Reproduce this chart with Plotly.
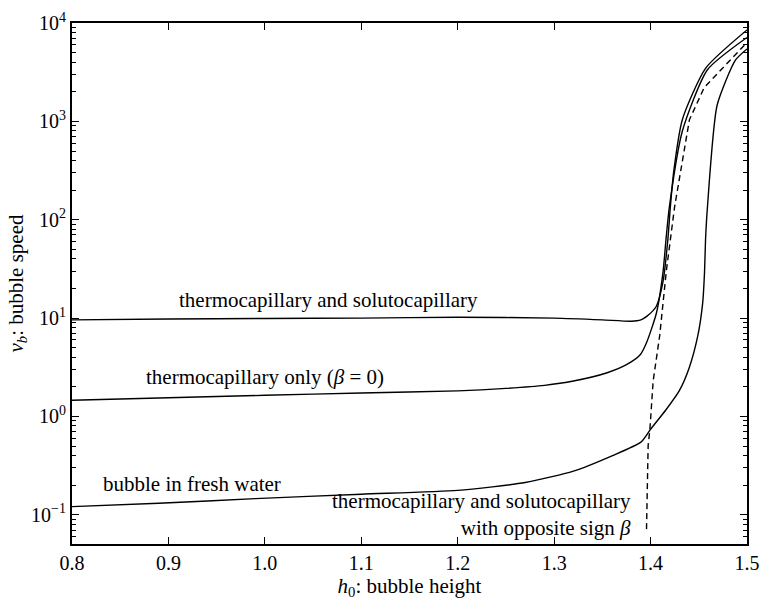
import plotly.graph_objects as go

# h0 values and bubble speeds
h_ts = [0.80, 0.90, 1.00, 1.10, 1.20, 1.30, 1.35, 1.38, 1.39, 1.396, 1.406, 1.413, 1.418, 1.4205, 1.424, 1.433, 1.457, 1.50]
v_ts = [9.6, 9.8, 9.9, 10.0, 10.2, 10.0, 9.6, 9.3, 9.6, 10.4, 13.2, 23.7, 64, 135, 309, 1047, 3467, 8511]

h_t = [0.80, 0.90, 1.00, 1.10, 1.20, 1.25, 1.29, 1.32, 1.355, 1.375, 1.389, 1.396, 1.406, 1.413, 1.416, 1.4195, 1.433, 1.459, 1.50]
v_t = [1.46, 1.55, 1.64, 1.73, 1.82, 1.93, 2.07, 2.29, 2.78, 3.36, 4.21, 5.69, 11.2, 29.9, 63, 135, 798, 3350, 7130]

h_fw = [0.80, 0.89, 0.99, 1.10, 1.20, 1.27, 1.32, 1.36, 1.39, 1.40, 1.416, 1.43, 1.44, 1.449, 1.454, 1.456, 1.457, 1.459, 1.469, 1.488, 1.50]
v_fw = [0.121, 0.131, 0.146, 0.162, 0.177, 0.213, 0.278, 0.398, 0.548, 0.741, 1.17, 1.84, 3.11, 6.62, 14.1, 29.9, 63.1, 135, 1459, 4198, 5458]

h_op = [1.3958, 1.3975, 1.3993, 1.401, 1.4027, 1.4095, 1.4163, 1.4249, 1.4403, 1.4556, 1.50]
v_op = [0.0715, 0.508, 0.741, 1.46, 2.30, 6.67, 29.9, 135, 1040, 2208, 6353]

x_ticks = [0.8, 0.9, 1.0, 1.1, 1.2, 1.3, 1.4, 1.5]
x_ticktext = ["0.8", "0.9", "1.0", "1.1", "1.2", "1.3", "1.4", "1.5"]
y_ticks = [0.1, 1, 10, 100, 1000, 10000]
y_ticktext = ["10<sup>\u22121</sup>", "10<sup>0</sup>", "10<sup>1</sup>", "10<sup>2</sup>", "10<sup>3</sup>", "10<sup>4</sup>"]
y_minor = [m * 10.0 ** k for k in range(-2, 4) for m in range(2, 10)]

FONT = "Times New Roman, Liberation Serif, DejaVu Serif, serif"

fig = go.Figure()
line = dict(color="black", width=1.4, shape="spline", smoothing=0.6)
fig.add_trace(go.Scatter(x=h_ts, y=v_ts, mode="lines", line=line, showlegend=False))
fig.add_trace(go.Scatter(x=h_t, y=v_t, mode="lines", line=line, showlegend=False))
fig.add_trace(go.Scatter(x=h_fw, y=v_fw, mode="lines", line=line, showlegend=False))
fig.add_trace(go.Scatter(x=h_op, y=v_op, mode="lines",
                         line=dict(color="black", width=1.4, dash="6px,4px"), showlegend=False))

ann = dict(showarrow=False, font=dict(family=FONT, size=21, color="black"), xref="x", yref="y")
fig.add_annotation(x=1.0656, y=1.188, text="thermocapillary and solutocapillary", yanchor="middle", **ann)
fig.add_annotation(x=1.0, y=0.401, text="thermocapillary only (<i>\u03b2</i> = 0)", yanchor="middle", **ann)
fig.add_annotation(x=0.924, y=-0.690, text="bubble in fresh water", yanchor="middle", **ann)
fig.add_annotation(x=1.382, y=-0.995, xanchor="right", align="right", yanchor="middle",
                   text="thermocapillary and solutocapillary<br>with opposite sign <i>\u03b2</i>", **ann)

axis_common = dict(showline=True, linecolor="black", linewidth=2, mirror="ticks",
                   ticks="inside", tickcolor="black", tickwidth=1.2, ticklen=7,
                   showgrid=False, zeroline=False, ticklabeloverflow="allow",
                   tickfont=dict(family=FONT, size=20, color="black"))

fig.update_xaxes(range=[0.8, 1.5], tickmode="array", tickvals=x_ticks, ticktext=x_ticktext,
                 title=dict(text="<i>h</i><sub>0</sub>: bubble height", font=dict(family=FONT, size=21, color="black"), standoff=3),
                 **axis_common)
fig.update_yaxes(type="log", range=[-1.297, 4.0005], tickmode="array", tickvals=y_ticks, ticktext=y_ticktext,
                 minor=dict(tickmode="array", tickvals=y_minor, ticks="inside", ticklen=4,
                            tickcolor="black", tickwidth=1, showgrid=False),
                 title=dict(text="<i>v</i><sub><i>b</i></sub>: bubble speed", font=dict(family=FONT, size=21, color="black"), standoff=2),
                 **axis_common)

fig.update_layout(width=770, height=602, margin=dict(l=72, r=15, t=10, b=53),
                  plot_bgcolor="white", paper_bgcolor="white",
                  font=dict(family=FONT, size=20, color="black"))

fig.write_html("out.html")
